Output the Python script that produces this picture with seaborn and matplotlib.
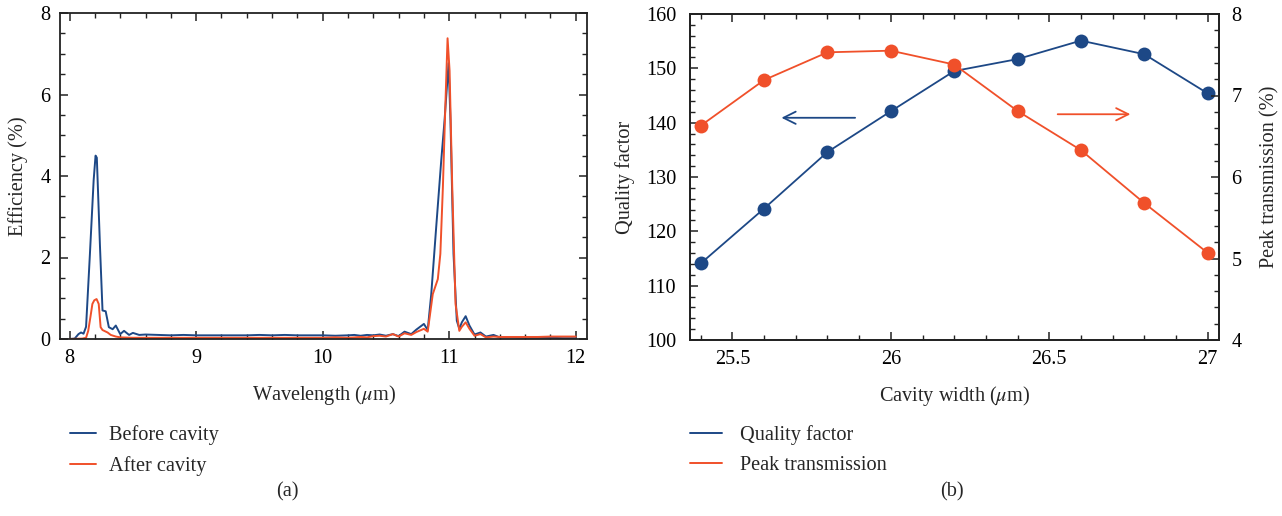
import numpy as np
import pandas as pd
import matplotlib
matplotlib.use("Agg")
import matplotlib.pyplot as plt
from matplotlib.lines import Line2D
from matplotlib.ticker import MultipleLocator
import seaborn as sns

# ---------------- data ----------------
wl_before = [8.00, 8.04, 8.07, 8.09, 8.11, 8.13, 8.16, 8.19, 8.205, 8.215, 8.24, 8.26,
             8.285, 8.31, 8.34, 8.365, 8.40, 8.43, 8.47, 8.50, 8.55, 8.6, 8.7, 8.8, 8.9,
             9.0, 9.1, 9.2, 9.3, 9.4, 9.5, 9.6, 9.7, 9.8, 9.9, 10.0, 10.1, 10.2, 10.25,
             10.3, 10.35, 10.4, 10.45, 10.5, 10.555, 10.6, 10.647, 10.7, 10.74, 10.8,
             10.83, 10.858, 10.897, 10.937, 10.963, 10.995, 11.01, 11.034, 11.06, 11.08,
             11.10, 11.13, 11.16, 11.2, 11.247, 11.29, 11.35, 11.4, 11.5, 11.6, 11.7,
             11.8, 11.9, 12.0]
eff_before = [0.0, 0.01, 0.12, 0.16, 0.13, 0.3, 2.06, 3.9, 4.5, 4.45, 2.27, 0.7,
              0.68, 0.29, 0.24, 0.33, 0.12, 0.2, 0.1, 0.15, 0.1, 0.11, 0.1, 0.09, 0.1,
              0.09, 0.09, 0.09, 0.09, 0.09, 0.1, 0.09, 0.1, 0.09, 0.09, 0.09, 0.08, 0.09, 0.1,
              0.08, 0.1, 0.09, 0.11, 0.08, 0.12, 0.07, 0.18, 0.12, 0.23, 0.37,
              0.22, 1.1, 2.74, 4.38, 5.36, 6.77, 5.36, 2.09, 0.45, 0.25,
              0.41, 0.56, 0.33, 0.11, 0.16, 0.06, 0.1, 0.04, 0.04, 0.03, 0.03,
              0.03, 0.02, 0.02]

wl_after = [8.00, 8.1, 8.13, 8.147, 8.165, 8.18, 8.195, 8.213, 8.23, 8.245, 8.26, 8.3,
            8.325, 8.365, 8.4, 8.5, 8.6, 8.8, 9.0, 9.2, 9.4, 9.6, 9.8, 10.0, 10.1, 10.2,
            10.3, 10.35, 10.4, 10.45, 10.5, 10.555, 10.6, 10.647, 10.7, 10.74, 10.8,
            10.83, 10.87, 10.91, 10.93, 10.95, 10.97, 10.987, 11.003, 11.024, 11.05,
            11.08, 11.10, 11.13, 11.16, 11.2, 11.247, 11.29, 11.35, 11.4, 11.5, 11.6,
            11.7, 11.8, 11.9, 12.0]
eff_after = [0.0, 0.01, 0.03, 0.2, 0.55, 0.86, 0.95, 0.98, 0.86, 0.29, 0.22, 0.16,
             0.1, 0.06, 0.04, 0.03, 0.03, 0.03, 0.03, 0.03, 0.03, 0.03, 0.03, 0.03, 0.04, 0.03,
             0.05, 0.04, 0.07, 0.08, 0.06, 0.12, 0.06, 0.14, 0.1, 0.17, 0.25,
             0.18, 1.1, 1.47, 2.09, 3.72, 5.77, 7.38, 6.58, 3.72, 0.86,
             0.2, 0.3, 0.41, 0.25, 0.08, 0.12, 0.04, 0.06, 0.05, 0.05, 0.05,
             0.05, 0.06, 0.06, 0.06]

cavity_width = [25.4, 25.6, 25.8, 26.0, 26.2, 26.4, 26.6, 26.8, 27.0]
quality_factor = [114.1, 124.2, 134.6, 142.1, 149.5, 151.7, 155.1, 152.6, 145.4]
peak_transmission = [6.63, 7.19, 7.53, 7.55, 7.38, 6.81, 6.33, 5.68, 5.07]

BLUE = "#1d4886"
RED = "#f0502a"

# ---------------- style ----------------
sns.set_style("ticks")
plt.rcParams["font.family"] = ["Liberation Serif", "DejaVu Serif"]
plt.rcParams["mathtext.fontset"] = "stix"
FS = 14.6
plt.rcParams["font.size"] = FS

fig = plt.figure(figsize=(12.82, 5.16), dpi=100)
ax1 = fig.add_axes([60 / 1282, 1 - 339 / 516, 527 / 1282, 326 / 516])
ax2 = fig.add_axes([690 / 1282, 1 - 340 / 516, 529 / 1282, 326 / 516])

# ---------------- left panel ----------------
df_b = pd.DataFrame({"wl": wl_before, "eff": eff_before})
df_a = pd.DataFrame({"wl": wl_after, "eff": eff_after})
sns.lineplot(data=df_b, x="wl", y="eff", ax=ax1, color=BLUE, lw=1.4, sort=True)
sns.lineplot(data=df_a, x="wl", y="eff", ax=ax1, color=RED, lw=1.4, sort=True)
ax1.set_xlim(7.924, 12.089)
ax1.set_ylim(0, 8)
ax1.xaxis.set_major_locator(MultipleLocator(1))
ax1.xaxis.set_minor_locator(MultipleLocator(0.2))
ax1.yaxis.set_major_locator(MultipleLocator(2))
ax1.yaxis.set_minor_locator(MultipleLocator(0.5))
ax1.set_xlabel(r"Wavelength ($\mu$m)", fontsize=FS, labelpad=11)
ax1.set_ylabel("Efficiency (%)", fontsize=FS, labelpad=9)

# ---------------- right panel ----------------
ax3 = ax2.twinx()
df_q = pd.DataFrame({"w": cavity_width, "q": quality_factor})
df_p = pd.DataFrame({"w": cavity_width, "p": peak_transmission})
sns.lineplot(data=df_q, x="w", y="q", ax=ax2, color=BLUE, lw=1.3,
             marker="o", markersize=10, markeredgewidth=0)
sns.lineplot(data=df_p, x="w", y="p", ax=ax3, color=RED, lw=1.3,
             marker="o", markersize=10, markeredgewidth=0)
ax2.set_xlim(25.366, 27.036)
ax2.set_ylim(100, 160)
ax3.set_ylim(4, 8)
ax2.xaxis.set_major_locator(MultipleLocator(0.5))
ax2.xaxis.set_minor_locator(MultipleLocator(0.1))
ax2.yaxis.set_major_locator(MultipleLocator(10))
ax2.yaxis.set_minor_locator(MultipleLocator(2))
ax3.yaxis.set_major_locator(MultipleLocator(1))
ax3.yaxis.set_minor_locator(MultipleLocator(0.2))
ax2.set_xticks([25.5, 26, 26.5, 27])
ax2.set_xticklabels(["25.5", "26", "26.5", "27"])
ax2.set_xlabel(r"Cavity width ($\mu$m)", fontsize=FS, labelpad=11)
ax2.set_ylabel("Quality factor", fontsize=FS, labelpad=8)
ax3.set_ylabel("Peak transmission (%)", fontsize=FS, labelpad=13)

# arrows
ax2.annotate("", xy=(25.646, 140.9), xytext=(25.896, 140.9),
             arrowprops=dict(arrowstyle="->", color=BLUE, lw=1.3, mutation_scale=22))
ax3.annotate("", xy=(26.765, 6.77), xytext=(26.518, 6.77),
             arrowprops=dict(arrowstyle="->", color=RED, lw=1.3, mutation_scale=22))

# ticks / spines
for ax in (ax1, ax2, ax3):
    for s in ax.spines.values():
        s.set_linewidth(1.3)
        s.set_color("#222222")
ax1.tick_params(which="both", direction="in", top=True, right=True, labelsize=FS,
                colors="#222222", labelcolor="black")
ax1.tick_params(which="major", length=6, width=1.1, pad=7)
ax1.tick_params(which="minor", length=3.5, width=1.0)
ax2.tick_params(which="both", direction="in", top=True, right=False, labelsize=FS,
                colors="#222222", labelcolor="black")
ax2.tick_params(which="major", length=6, width=1.1, pad=7)
ax2.tick_params(axis="y", which="major", pad=10)
ax2.tick_params(which="minor", length=3.5, width=1.0)
ax3.tick_params(which="both", direction="in", right=True, left=False, labelsize=FS,
                colors="#222222", labelcolor="black")
ax3.tick_params(which="major", length=6, width=1.1, pad=9)
ax3.tick_params(which="minor", length=3.5, width=1.0)

for ax in (ax1, ax2, ax3):
    leg = ax.get_legend()
    if leg:
        leg.remove()

# legends
h1 = [Line2D([], [], color=BLUE, lw=1.4), Line2D([], [], color=RED, lw=1.4)]
fig.legend(h1, ["Before cavity", "After cavity"], loc="upper left",
           bbox_to_anchor=(70 / 1282, 1 - 425 / 516), frameon=False, fontsize=FS,
           handlelength=1.3, handletextpad=0.62, labelspacing=0.55,
           borderpad=0, borderaxespad=0)
h2 = [Line2D([], [], color=BLUE, lw=1.4), Line2D([], [], color=RED, lw=1.4)]
fig.legend(h2, ["Quality factor", "Peak transmission"], loc="upper left",
           bbox_to_anchor=(690 / 1282, 1 - 425 / 516), frameon=False, fontsize=FS,
           handlelength=1.6, handletextpad=0.86, labelspacing=0.55,
           borderpad=0, borderaxespad=0)

fig.text(287 / 1282, 1 - 492 / 516, "(a)", ha="center", va="center", fontsize=FS)
fig.text(952 / 1282, 1 - 492 / 516, "(b)", ha="center", va="center", fontsize=FS)

fig.savefig("out.png", dpi=100)
